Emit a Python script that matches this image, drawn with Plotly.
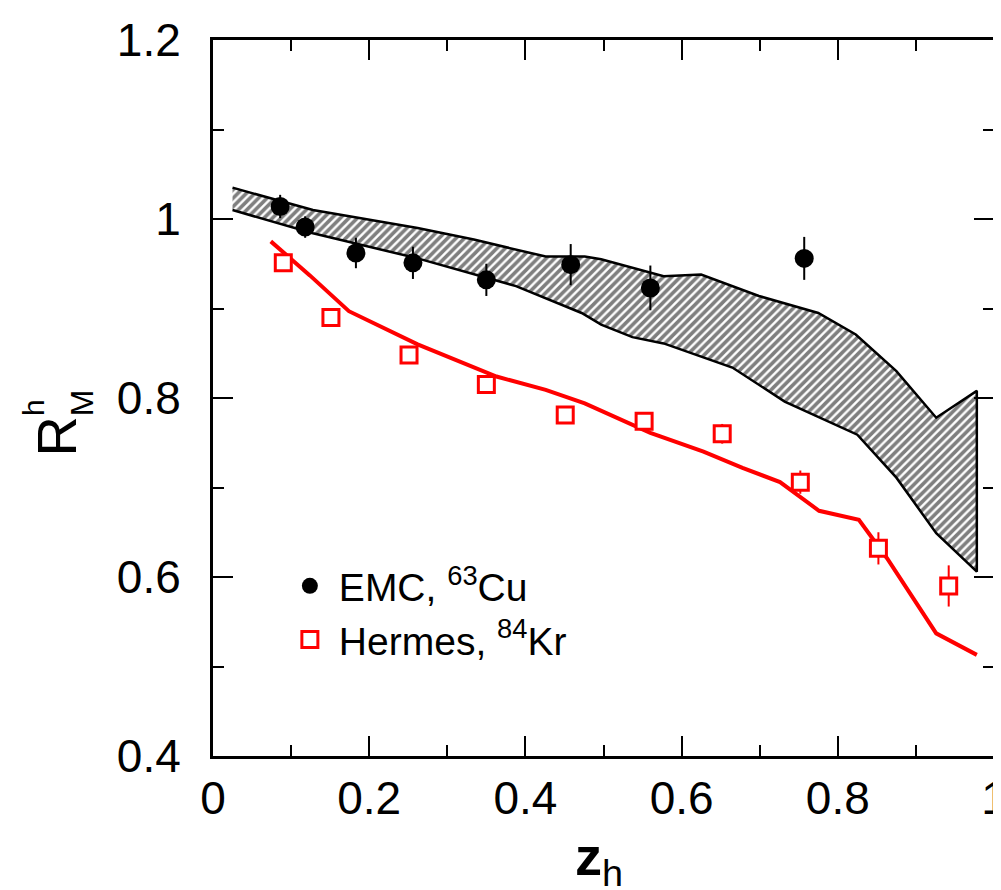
import plotly.graph_objects as go

# ---- data ----
emc_z = [0.086, 0.118, 0.183, 0.256, 0.350, 0.458, 0.560, 0.757]
emc_r = [1.014, 0.991, 0.962, 0.951, 0.932, 0.949, 0.923, 0.956]
emc_err = [0.013, 0.012, 0.017, 0.018, 0.018, 0.023, 0.025, 0.024]

her_z = [0.090, 0.151, 0.251, 0.350, 0.451, 0.552, 0.652, 0.752, 0.852, 0.942]
her_r = [0.951, 0.890, 0.848, 0.815, 0.781, 0.774, 0.760, 0.706, 0.632, 0.590]
her_err = [0.005, 0.006, 0.006, 0.006, 0.006, 0.007, 0.011, 0.013, 0.018, 0.023]

line_z = [0.074, 0.124, 0.174, 0.262, 0.363, 0.426, 0.476, 0.527, 0.560, 0.628,
          0.678, 0.726, 0.776, 0.827, 0.863, 0.926, 0.978]
line_r = [0.975, 0.937, 0.897, 0.860, 0.824, 0.809, 0.794, 0.774, 0.761, 0.740,
          0.722, 0.706, 0.674, 0.664, 0.621, 0.537, 0.513]

band_up_z = [0.025, 0.128, 0.262, 0.334, 0.426, 0.476, 0.497, 0.577, 0.625,
             0.699, 0.775, 0.823, 0.875, 0.926, 0.978]
band_up_r = [1.035, 1.010, 0.990, 0.977, 0.958, 0.958, 0.955, 0.936, 0.938,
             0.914, 0.895, 0.871, 0.830, 0.778, 0.808]
band_lo_z = [0.025, 0.128, 0.262, 0.388, 0.472, 0.497, 0.537, 0.577, 0.665,
             0.732, 0.825, 0.875, 0.926, 0.978]
band_lo_r = [1.010, 0.984, 0.956, 0.925, 0.895, 0.882, 0.868, 0.861, 0.834,
             0.796, 0.759, 0.711, 0.649, 0.606]

x_ticks = [0, 0.2, 0.4, 0.6, 0.8, 1.0]
x_ticklabels = ["0", "0.2", "0.4", "0.6", "0.8", "1"]
y_ticks = [0.4, 0.6, 0.8, 1.0, 1.2]
y_ticklabels = ["0.4", "0.6", "0.8", "1", "1.2"]

FONT = "Liberation Sans, Arial, sans-serif"

# figure and plot area (pixels)
W, H = 1001, 890
L, T = 205, 32
R = W - 999
B = H - 748
PW, PH = W - L - R, H - T - B


def px2paper(px, py):
    return (px - L) / PW, (H - B - py) / PH


fig = go.Figure()

# hatched band
fig.add_trace(go.Scatter(
    x=band_up_z + band_lo_z[::-1],
    y=band_up_r + band_lo_r[::-1],
    mode="lines", fill="toself",
    line=dict(color="black", width=2.5),
    fillcolor="white",
    fillpattern=dict(shape="/", fgcolor="black", bgcolor="white",
                     size=6, solidity=0.6),
    showlegend=False, hoverinfo="skip",
))

# red calculation line
fig.add_trace(go.Scatter(
    x=line_z, y=line_r, mode="lines",
    line=dict(color="#ff0000", width=4),
    showlegend=False,
))

# EMC points
fig.add_trace(go.Scatter(
    x=emc_z, y=emc_r, mode="markers",
    name="EMC, <sup>63</sup>Cu",
    marker=dict(symbol="circle", size=19, color="black"),
    error_y=dict(type="data", array=emc_err, color="black", thickness=2, width=0),
))

# Hermes points
fig.add_trace(go.Scatter(
    x=her_z, y=her_r, mode="markers",
    name="Hermes, <sup>84</sup>Kr",
    marker=dict(symbol="square", size=16, color="white",
                line=dict(color="#ff0000", width=3)),
    error_y=dict(type="data", array=her_err, color="#ff0000", thickness=2, width=0),
))

axis_common = dict(
    showline=True, linecolor="black", linewidth=3, mirror="ticks",
    ticks="inside", ticklen=20, tickwidth=2, tickcolor="black",
    showgrid=False, zeroline=False, ticklabeloverflow="allow",
    tickfont=dict(family=FONT, size=46, color="black"),
)

fig.update_xaxes(
    range=[0, 1], tickmode="array", tickvals=x_ticks, ticktext=x_ticklabels,
    minor=dict(dtick=0.1, ticks="inside", ticklen=11, tickwidth=2, tickcolor="black",
               showgrid=False),
    ticklabelstandoff=0,
    **axis_common,
)
fig.update_yaxes(
    range=[0.4, 1.2], tickmode="array", tickvals=y_ticks, ticktext=y_ticklabels,
    minor=dict(dtick=0.1, ticks="inside", ticklen=11, tickwidth=2, tickcolor="black",
               showgrid=False),
    ticklabelstandoff=20,
    **axis_common,
)

annotations = []
# y-axis title R^h_M (stacked super/subscript)
for txt, (cx, cy), size in [("R", (45, 429), 56), ("h", (22, 399), 30), ("M", (72, 395), 32)]:
    ax_, ay_ = px2paper(cx, cy)
    annotations.append(dict(text=txt, x=ax_, y=ay_, xref="paper", yref="paper",
                            xanchor="center", yanchor="middle", textangle=-90,
                            showarrow=False,
                            font=dict(family=FONT, size=size, color="black")))
# x-axis title z_h
ax_, ay_ = px2paper(597, 852)
annotations.append(dict(text="<b>z</b><sub>h</sub>", x=ax_, y=ay_, xref="paper", yref="paper",
                        xanchor="center", yanchor="middle", showarrow=False,
                        font=dict(family=FONT, size=54, color="black")))

lx, ly = px2paper(274, 546)
fig.update_layout(
    width=W, height=H,
    margin=dict(l=L, r=R, t=T, b=B, pad=0),
    paper_bgcolor="white", plot_bgcolor="white",
    font=dict(family=FONT, color="black"),
    showlegend=True,
    legend=dict(x=lx, y=ly, xanchor="left", yanchor="top",
                bgcolor="rgba(0,0,0,0)", borderwidth=0,
                font=dict(family=FONT, size=39, color="black"),
                tracegroupgap=0, itemsizing="trace", itemwidth=48),
    annotations=annotations,
)

fig.write_html("out.html")
